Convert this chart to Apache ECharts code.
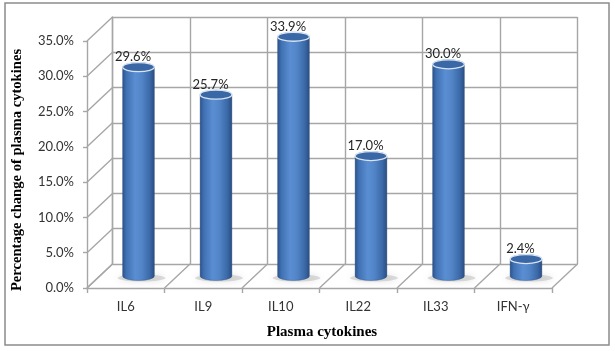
<!DOCTYPE html>
<html>
<head>
<meta charset="utf-8">
<script src="https://cdn.jsdelivr.net/npm/echarts@6/dist/echarts.min.js"></script>
<style>html,body{margin:0;padding:0;background:#fff}#c{width:615px;height:351px}</style>
</head>
<body>
<div id="c"></div>
<script>
const categories = ['IL6', 'IL9', 'IL10', 'IL22', 'IL33', 'IFN-γ'];
const values = [29.6, 25.7, 33.9, 17.0, 30.0, 2.4];
const yTicks = [0, 5, 10, 15, 20, 25, 30, 35];

const DX = 25.5, DY = -24;
const GRID = '#a6a6a6';
const GW = 1.4;
const FONT = 'Lato, "Open Sans", sans-serif';

const chart = echarts.init(document.getElementById('c'), null, {renderer: 'canvas'});

function ellipsePath(cx, cy, rx, ry) {
  return 'M' + (cx - rx) + ' ' + cy +
    ' A' + rx + ' ' + ry + ' 0 1 0 ' + (cx + rx) + ' ' + cy +
    ' A' + rx + ' ' + ry + ' 0 1 0 ' + (cx - rx) + ' ' + cy + ' Z';
}

const option = {
  backgroundColor: '#fff',
  animation: false,
  grid: [
    {left: 87 + DX, top: 41 + DY, width: 465, height: 247},
    {left: 87, top: 41, width: 465, height: 247}
  ],
  xAxis: [
    {gridIndex: 0, type: 'category', data: categories, boundaryGap: true,
      axisLine: {show: false}, axisTick: {show: false}, axisLabel: {show: false},
      splitLine: {show: true, lineStyle: {color: GRID, width: GW}}},
    {gridIndex: 1, type: 'category', data: categories, boundaryGap: true,
      axisLine: {show: true, lineStyle: {color: GRID, width: GW}},
      axisTick: {show: true, length: 5, lineStyle: {color: GRID, width: GW}},
      axisLabel: {show: true, margin: 12, fontFamily: FONT, fontSize: 13, color: '#333'},
      splitLine: {show: false}}
  ],
  yAxis: [
    {gridIndex: 0, type: 'value', min: 0, max: 35, interval: 5,
      axisLine: {show: true, lineStyle: {color: GRID, width: GW}},
      axisTick: {show: false}, axisLabel: {show: false},
      splitLine: {show: true, lineStyle: {color: GRID, width: GW}}},
    {gridIndex: 1, type: 'value', min: 0, max: 35, interval: 5,
      axisLine: {show: true, lineStyle: {color: GRID, width: GW}},
      axisTick: {show: true, length: 4, lineStyle: {color: GRID, width: GW}},
      axisLabel: {show: true, margin: 13, fontFamily: FONT, fontSize: 13, color: '#333',
        formatter: v => v.toFixed(1) + '%'},
      splitLine: {show: false}}
  ],
  graphic: [
    {type: 'rect', shape: {x: 5, y: 3, width: 604, height: 342},
      style: {fill: 'none', stroke: '#8c8c8c', lineWidth: 1.5}, silent: true},
    {type: 'text', x: 17, y: 170, rotation: Math.PI / 2,
      style: {text: 'Percentage change of plasma cytokines', align: 'center', verticalAlign: 'middle',
        font: 'bold 14.6px "Liberation Serif", "Times New Roman", serif', fill: '#000'}},
    {type: 'text', x: 322, y: 332,
      style: {text: 'Plasma cytokines', align: 'center', verticalAlign: 'middle',
        font: 'bold 15px "Liberation Serif", "Times New Roman", serif', fill: '#000'}}
  ],
  series: [
    {
      type: 'custom', xAxisIndex: 1, yAxisIndex: 1, silent: true, z: 1,
      data: yTicks.map(v => [0, v]),
      renderItem: function (params, api) {
        const cs = params.coordSys;
        const y = api.coord([0, api.value(1)])[1];
        return {type: 'line', shape: {x1: cs.x, y1: y, x2: cs.x + DX, y2: y + DY},
          style: {stroke: GRID, lineWidth: GW}};
      }
    },
    {
      type: 'custom', xAxisIndex: 1, yAxisIndex: 1, silent: true, z: 1,
      data: categories.map((c, i) => [i, 0]),
      renderItem: function (params, api) {
        const p = api.coord([api.value(0), 0]);
        const w = api.size([1, 0])[0];
        const children = [];
        const xl = p[0] - w / 2;
        children.push({type: 'line', shape: {x1: xl, y1: p[1], x2: xl + DX, y2: p[1] + DY},
          style: {stroke: GRID, lineWidth: GW}});
        if (params.dataIndex === categories.length - 1) {
          const xr = p[0] + w / 2;
          children.push({type: 'line', shape: {x1: xr, y1: p[1], x2: xr + DX, y2: p[1] + DY},
            style: {stroke: GRID, lineWidth: GW}});
        }
        return {type: 'group', children: children};
      }
    },
    {
      type: 'custom', xAxisIndex: 1, yAxisIndex: 1, silent: true, z: 5,
      data: values.map((v, i) => [i, v]),
      renderItem: function (params, api) {
        const base = api.coord([api.value(0), 0]);
        const top = api.coord([api.value(0), api.value(1)]);
        const w = api.size([1, 0])[0];
        const rx = w * 0.205, ry = 4.5;
        const cx = base[0] + DX / 2;
        const yb = base[1] + DY / 2;
        const yt = top[1] + DY / 2;
        const bodyGrad = new echarts.graphic.LinearGradient(0, 0, 1, 0, [
          {offset: 0, color: '#2a5188'},
          {offset: 0.12, color: '#3f70b2'},
          {offset: 0.4, color: '#5a8ed2'},
          {offset: 0.6, color: '#5285c8'},
          {offset: 0.85, color: '#3b69a8'},
          {offset: 1, color: '#294c7f'}
        ]);
        const body = 'M' + (cx - rx) + ' ' + yt + ' L' + (cx - rx) + ' ' + yb +
          ' A' + rx + ' ' + ry + ' 0 0 0 ' + (cx + rx) + ' ' + yb +
          ' L' + (cx + rx) + ' ' + yt +
          ' A' + rx + ' ' + ry + ' 0 0 0 ' + (cx - rx) + ' ' + yt + ' Z';
        return {
          type: 'group',
          children: [
            {type: 'path', shape: {pathData: ellipsePath(cx + 3, yb + 2, rx + 8, 3.5)},
              style: {fill: 'rgba(160,160,160,0.35)', shadowBlur: 7, shadowColor: 'rgba(110,110,110,0.55)'}},
            {type: 'path', shape: {pathData: body},
              style: {fill: bodyGrad, stroke: 'rgba(40,70,120,0.6)', lineWidth: 0.6}},
            {type: 'path', shape: {pathData: ellipsePath(cx, yt, rx, ry)},
              style: {fill: '#3a67a5', stroke: '#d8e4f3', lineWidth: 1.3}},
            {type: 'text', x: cx - 5.5, y: yt - ry + 1,
              style: {text: api.value(1).toFixed(1) + '%', align: 'center', verticalAlign: 'bottom',
                font: '13px ' + FONT, fill: '#262626'}}
          ]
        };
      }
    }
  ]
};
chart.setOption(option);
</script>
</body>
</html>
